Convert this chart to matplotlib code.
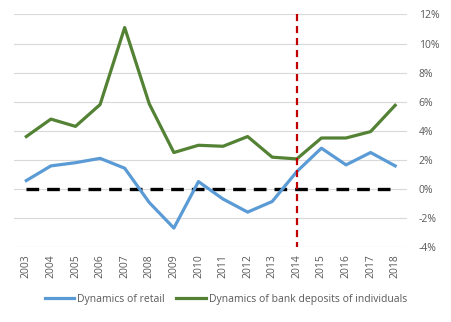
import matplotlib
matplotlib.use("Agg")
import matplotlib.pyplot as plt
from matplotlib.ticker import FuncFormatter

years = [str(y) for y in range(2003, 2019)]
retail = [0.57, 1.58, 1.8, 2.1, 1.42, -0.94, -2.7, 0.5, -0.7, -1.6, -0.87, 1.19, 2.8, 1.65, 2.5, 1.58]
deposits = [3.6, 4.8, 4.3, 5.8, 11.1, 5.85, 2.5, 3.0, 2.93, 3.6, 2.18, 2.06, 3.5, 3.5, 3.94, 5.75]
zero_line = [0.0] * len(years)
marker_year = "2014"
marker_span = [12, -4]
yticks = [-4, -2, 0, 2, 4, 6, 8, 10, 12]

plt.rcParams['font.family'] = ['Open Sans', 'DejaVu Sans']
fig = plt.figure(figsize=(4.52, 3.22), dpi=100)
ax = fig.add_axes([0.031, 0.233, 0.8705, 0.722])

x = list(range(len(years)))
ax.plot(x, zero_line, color='black', lw=2.4, dashes=(3.8, 2.4), zorder=3)
ax.plot(x, retail, color='#5B9BD5', lw=2.3, label='Dynamics of retail', zorder=4, solid_joinstyle='round')
ax.plot(x, deposits, color='#548235', lw=2.3, label='Dynamics of bank deposits of individuals', zorder=4, solid_joinstyle='round')
mi = years.index(marker_year)
ax.plot([mi, mi], marker_span, color='#C00000', lw=1.6, dashes=(3.2, 2.2), zorder=5)

ax.set_xlim(-0.5, len(years) - 0.5)
ax.set_ylim(-4, 12)
ax.set_yticks(yticks)
ax.yaxis.tick_right()
ax.yaxis.set_major_formatter(FuncFormatter(lambda v, p: f"{int(v)}%"))
ax.set_xticks(x)
ax.set_xticklabels(years, rotation=90)
ax.tick_params(axis='both', length=0, labelsize=7.5, colors='#595959')
ax.tick_params(axis='y', pad=8)
ax.tick_params(axis='x', pad=5)
ax.grid(axis='y', color='#D9D9D9', lw=0.8)
ax.set_axisbelow(True)
for s in ax.spines.values():
    s.set_visible(False)

leg = fig.legend(loc='center', bbox_to_anchor=(0.5, 0.07), ncol=2, frameon=False,
                 fontsize=7.5, handlelength=2.8, columnspacing=1.1, handletextpad=0.3)
for t in leg.get_texts():
    t.set_color('#595959')

fig.savefig('out.png', dpi=100)
